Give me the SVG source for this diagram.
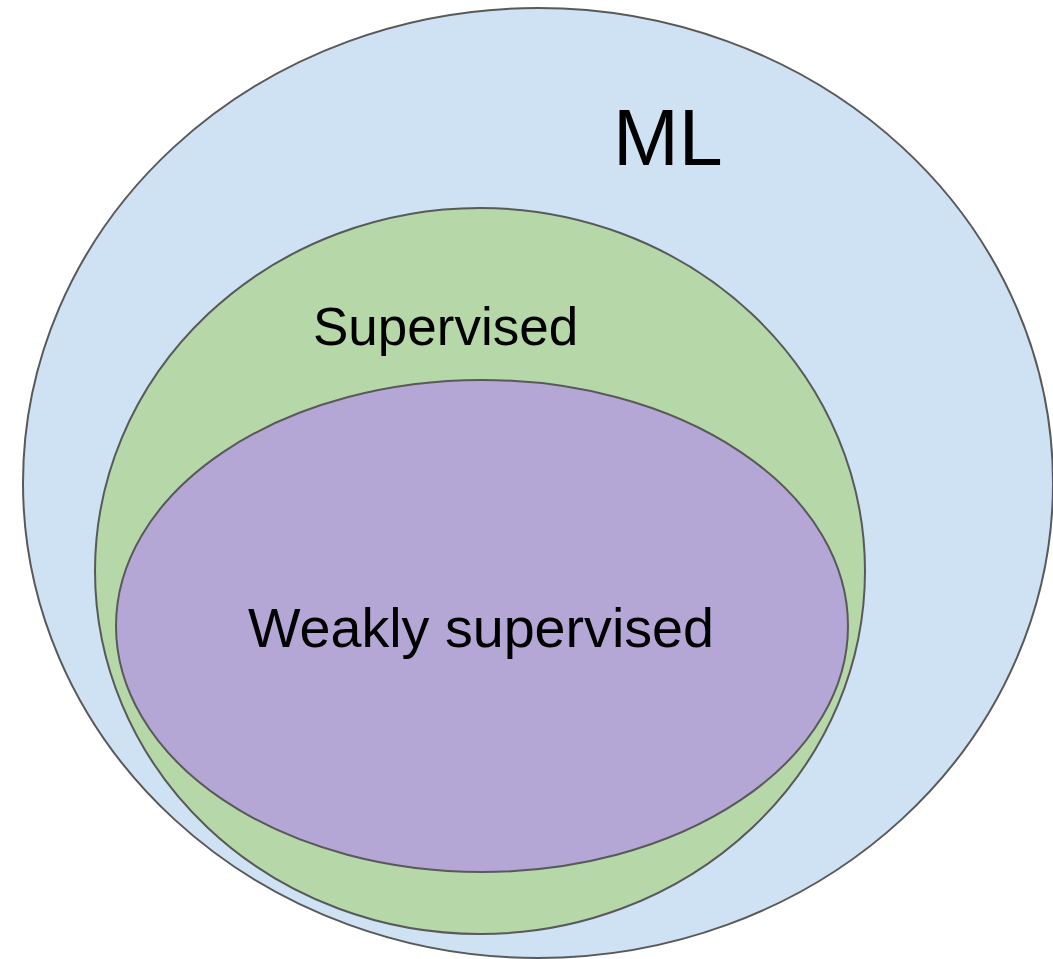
<svg xmlns="http://www.w3.org/2000/svg" width="1053" height="959" viewBox="0 0 1053 959">
<style>
.c{stroke:#595959;stroke-width:2}
.t{font-family:"Liberation Sans",Arial,sans-serif;fill:#000}
</style>
<rect width="1053" height="959" fill="#fff"/>
<g id="ml"><ellipse class="c" cx="538" cy="483" rx="515" ry="475" fill="#cfe2f3"/><text class="t" x="613" y="165" font-size="79">ML</text></g>
<g id="supervised"><ellipse class="c" cx="480" cy="571" rx="385" ry="363" fill="#b6d7a8"/><text class="t" x="313" y="345" font-size="53">Supervised</text></g>
<g id="weakly"><ellipse class="c" cx="482" cy="626" rx="366" ry="246" fill="#b4a7d6"/><text class="t" x="248" y="647" font-size="56" textLength="466" lengthAdjust="spacingAndGlyphs">Weakly supervised</text></g>
<g id="connectors"/>
</svg>
